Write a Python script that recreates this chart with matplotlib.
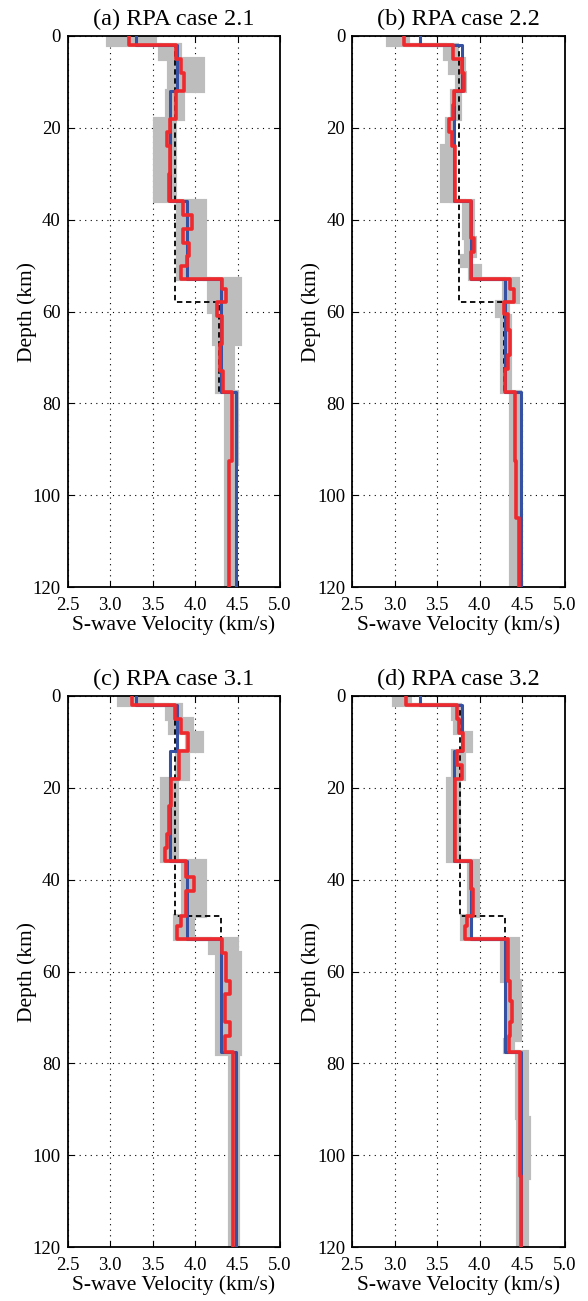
import matplotlib
matplotlib.use('Agg')
import matplotlib.pyplot as plt
import numpy as np

plt.rcParams['font.family'] = ['Liberation Serif', 'DejaVu Serif']

# ---------------- data ----------------
titles = ['(a) RPA case 2.1', '(b) RPA case 2.2', '(c) RPA case 3.1', '(d) RPA case 3.2']
x_ticks = [2.5, 3.0, 3.5, 4.0, 4.5, 5.0]
y_ticks = [0, 20, 40, 60, 80, 100, 120]
max_depth = 120

# true model (blue), shared by all panels
true_top = [0, 2, 12, 36, 53, 77.5]
true_v = [3.30, 3.79, 3.70, 3.90, 4.30, 4.48]

# starting / reference model (black dashed)
ref_top_a = [0, 2, 58, 77.5]
ref_v_a = [3.30, 3.76, 4.28, 4.48]
ref_top_b = [0, 2, 58, 77.5]
ref_v_b = [3.30, 3.76, 4.28, 4.48]
ref_top_c = [0, 2, 48, 77.5]
ref_v_c = [3.30, 3.76, 4.30, 4.48]
ref_top_d = [0, 2, 48, 77.5]
ref_v_d = [3.30, 3.77, 4.30, 4.48]

# inverted model (red)
red_top_a = [0, 2, 5, 8, 12, 18, 21, 24, 30, 36, 39, 42, 45, 48, 50, 53, 55, 58, 61, 67, 73, 77.5, 92.5]
red_v_a = [3.22, 3.78, 3.83, 3.87, 3.78, 3.71, 3.67, 3.71, 3.69, 3.86, 3.97, 3.86, 3.93, 3.90, 3.83,
           4.32, 4.36, 4.26, 4.32, 4.29, 4.33, 4.43, 4.40]
red_top_b = [0, 2, 5, 8, 12, 15, 18, 21, 24, 36, 44, 47, 53, 55, 58, 60.5, 64, 69.5, 72.5, 77.5, 92.5, 105]
red_v_b = [3.11, 3.69, 3.79, 3.81, 3.70, 3.68, 3.64, 3.67, 3.71, 3.90, 3.93, 3.90, 4.36, 4.40, 4.29,
           4.33, 4.36, 4.33, 4.30, 4.41, 4.43, 4.46]
red_top_c = [0, 2, 5, 8, 12, 18, 24, 30, 33, 36, 39.5, 42.5, 48, 50, 53, 56, 62, 65, 71, 74, 77.5]
red_v_c = [3.26, 3.77, 3.83, 3.92, 3.81, 3.72, 3.69, 3.67, 3.65, 3.89, 3.99, 3.89, 3.83, 3.79,
           4.32, 4.36, 4.41, 4.35, 4.41, 4.35, 4.45]
red_top_d = [0, 2, 5, 8, 12, 15, 18, 36, 42, 48, 50, 53, 62, 66.5, 71, 74, 77.5, 92.5, 104.5]
red_v_d = [3.13, 3.73, 3.76, 3.80, 3.73, 3.79, 3.71, 3.90, 3.92, 3.85, 3.83, 4.33, 4.36, 4.38, 4.36,
           4.34, 4.47, 4.47, 4.49]

# ensemble of accepted models (grey band: low / high edge)
grey_top_a = [0, 2, 5, 12, 18, 36, 53, 60, 67, 77.5, 93]
grey_lo_a = [2.98, 3.59, 3.69, 3.67, 3.53, 3.80, 4.16, 4.22, 4.26, 4.37, 4.36]
grey_hi_a = [3.53, 3.82, 4.10, 3.86, 3.76, 4.12, 4.53, 4.53, 4.45, 4.49, 4.47]
grey_top_b = [0, 2, 5, 8, 12, 18, 24, 36, 44, 48, 50, 53, 58, 61, 77.5]
grey_lo_b = [2.92, 3.59, 3.65, 3.73, 3.67, 3.61, 3.55, 3.81, 3.84, 3.79, 3.88, 4.28, 4.20, 4.26, 4.37]
grey_hi_b = [3.15, 3.73, 3.81, 3.82, 3.77, 3.69, 3.67, 3.92, 3.94, 3.88, 4.00, 4.45, 4.33, 4.36, 4.47]
grey_top_c = [0, 2, 5, 8, 12, 18, 36, 48, 53, 56, 78]
grey_lo_c = [3.10, 3.67, 3.71, 3.90, 3.79, 3.61, 3.86, 3.77, 4.18, 4.26, 4.41]
grey_hi_c = [3.49, 3.83, 3.96, 4.08, 3.92, 3.79, 4.12, 3.98, 4.49, 4.53, 4.51]
grey_top_d = [0, 2, 5, 8, 12, 18, 36, 48, 53, 62, 75, 77.5, 92, 105]
grey_lo_d = [2.99, 3.69, 3.71, 3.81, 3.69, 3.63, 3.87, 3.79, 4.26, 4.32, 4.30, 4.44, 4.45, 4.45]
grey_hi_d = [3.18, 3.77, 3.79, 3.90, 3.81, 3.75, 3.98, 3.88, 4.45, 4.47, 4.39, 4.55, 4.58, 4.55]

panels = [
    (grey_top_a, grey_lo_a, grey_hi_a, ref_top_a, ref_v_a, red_top_a, red_v_a),
    (grey_top_b, grey_lo_b, grey_hi_b, ref_top_b, ref_v_b, red_top_b, red_v_b),
    (grey_top_c, grey_lo_c, grey_hi_c, ref_top_c, ref_v_c, red_top_c, red_v_c),
    (grey_top_d, grey_lo_d, grey_hi_d, ref_top_d, ref_v_d, red_top_d, red_v_d),
]


def step_xy(tops, vals, bottom=max_depth):
    edges = list(tops) + [bottom]
    ys = np.repeat(edges, 2)[1:-1]
    xs = np.repeat(vals, 2)
    return xs, ys


W, H = 588, 1301
fig = plt.figure(figsize=(W / 100, H / 100), dpi=100)
rects = [
    [67.5 / W, 1 - 587 / H, 212.5 / W, 551 / H],
    [352.3 / W, 1 - 587 / H, 212.5 / W, 551 / H],
    [67.5 / W, 1 - 1247 / H, 212.5 / W, 551 / H],
    [352.3 / W, 1 - 1247 / H, 212.5 / W, 551 / H],
]

GREY = '#bdbdbd'
BLUE = '#3650a2'
RED = '#ee2a2e'

for rect, title, (gt, glo, ghi, rt, rv, dt, dv) in zip(rects, titles, panels):
    ax = fig.add_axes(rect)
    # grey band
    xlo, ys = step_xy(gt, glo)
    xhi, _ = step_xy(gt, ghi)
    ax.fill_betweenx(ys, xlo, xhi, color=GREY, lw=0, zorder=2)
    ax.plot(xlo, ys, color=GREY, lw=3.0, zorder=2, solid_joinstyle='miter')
    ax.plot(xhi, ys, color=GREY, lw=3.0, zorder=2, solid_joinstyle='miter')
    # reference model (dashed)
    xs, ys = step_xy(rt, rv)
    ax.plot(xs, ys, color='black', lw=1.3, ls=(0, (3, 2)), zorder=3)
    # true model
    xs, ys = step_xy(true_top, true_v)
    ax.plot(xs, ys, color=BLUE, lw=2.2, zorder=4)
    # inverted model
    xs, ys = step_xy(dt, dv)
    ax.plot(xs, ys, color=RED, lw=2.6, zorder=5)

    ax.set_xlim(2.5, 5.0)
    ax.set_ylim(max_depth, 0)
    ax.set_xticks(x_ticks)
    ax.set_xticklabels(['%.1f' % t for t in x_ticks])
    ax.set_yticks(y_ticks)
    ax.grid(True, color='black', ls=(0, (1, 4)), lw=0.8)
    ax.set_axisbelow(True)
    ax.tick_params(direction='in', top=True, right=True, length=4, width=0.8,
                   labelsize=13.5)
    ax.tick_params(axis='x', pad=7)
    ax.tick_params(axis='y', pad=5)
    for s in ax.spines.values():
        s.set_linewidth(1.3)
    ax.set_title(title, fontsize=17.5, pad=8)
    ax.set_xlabel('S-wave Velocity (km/s)', fontsize=15.5, labelpad=1)
    ax.set_ylabel('Depth (km)', fontsize=15.5, labelpad=-3)

fig.savefig('out.png', dpi=100)
